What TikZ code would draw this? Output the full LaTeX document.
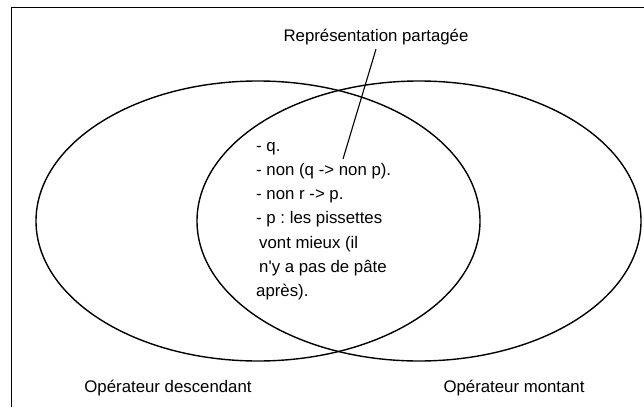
\documentclass[tikz,border=0pt]{standalone}
\usepackage{fontspec}
\setmainfont{Liberation Sans}
\newfontfamily\plainsans{Liberation Sans}
\frenchspacing
\begin{document}
\begin{tikzpicture}[x=1pt,y=-1pt,
  lbl/.style={font=\plainsans\fontsize{16.8}{19}\selectfont, inner sep=1pt},
  venn/.style={draw=black, line width=1.4pt},
  frameline/.style={draw=black, line width=1.1pt},
  leader/.style={draw=black, line width=1.1pt}]
\useasboundingbox (0,0) rectangle (644,407);
\fill[white] (0,0) rectangle (644,407);
% frame (cut off at right and bottom)
\draw[frameline] (11.5,407) -- (11.5,7.5) -- (644,7.5);
% ellipses
\draw[venn] (258,221) ellipse [x radius=222, y radius=140];
\draw[venn] (419,221) ellipse [x radius=222, y radius=140];
% labels
\node[lbl] (rep) at (376,37) {Représentation partagée};
\node[lbl, anchor=north west, align=left, inner sep=0pt,
      font=\plainsans\fontsize{16.8}{24.2}\selectfont\frenchspacing] (txt) at (256,142)
  {- q.\\
   - non (q -> non p).\\
   - non r -> p.\\
   - p : les pissettes\\
   \hspace{3pt}vont mieux (il\\
   \hspace{3pt}n'y a pas de pâte\\
   après).};
\coordinate (tip) at (343,159);
\draw[leader] (rep.south) ++(0,3) -- (tip);
\node[lbl] (desc) at (168,388) {Opérateur descendant};
\node[lbl] (mont) at (514,388) {Opérateur montant};
\end{tikzpicture}
\end{document}
